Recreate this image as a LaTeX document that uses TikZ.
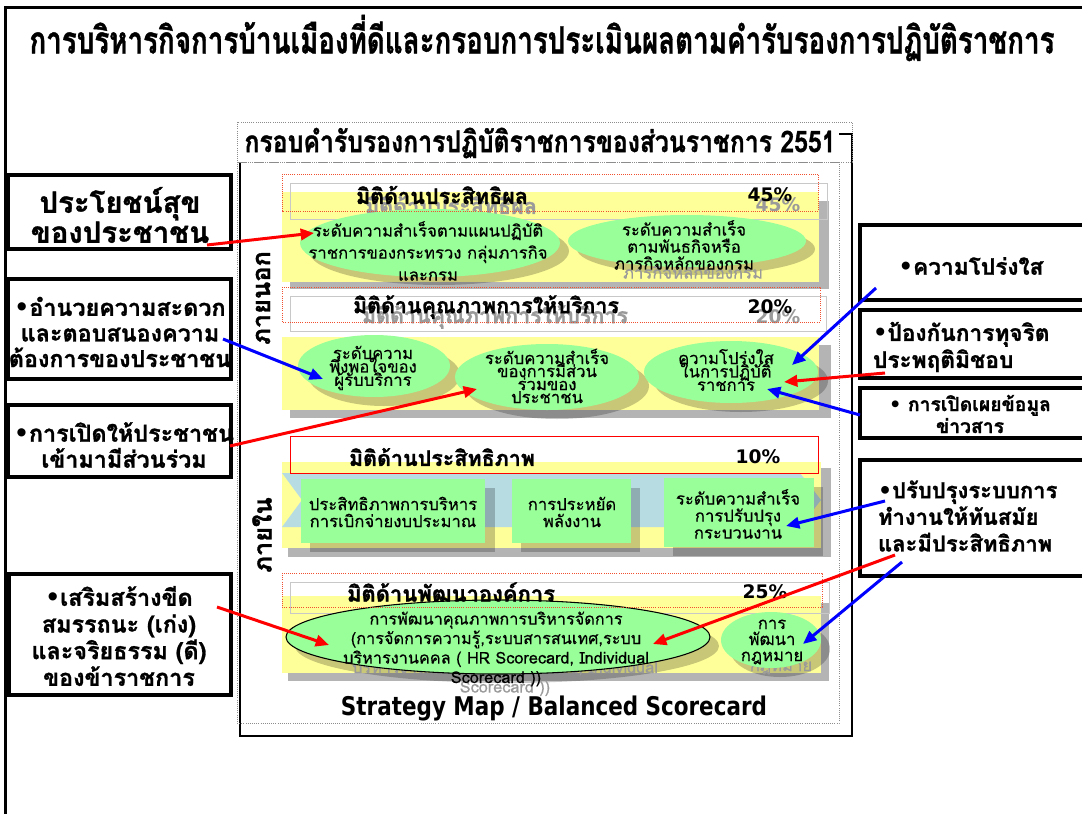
\documentclass[tikz,border=0pt]{standalone}
\usepackage{graphicx}
\usepackage{fontspec}
\newfontfamily\thai[Script=Thai,UprightFeatures={FakeBold=0.5},BoldFeatures={FakeBold=1.2}]{Loma}
\newfontfamily\dvs{DejaVu Sans}
\usetikzlibrary{arrows.meta,fit,shapes.geometric}
\lineskiplimit=-100pt
\newdimen\pu \pu=0.75pt
\newcommand\fitw[2]{\resizebox{#1\pu}{!}{#2}}
\newcommand\fitwy[3]{\scalebox{1}[#2]{\resizebox{#1\pu}{!}{#3}}}
\newcommand\bul{{\dvs\bfseries\char"2022}}
\definecolor{yel}{HTML}{FFFF99}
\definecolor{grn}{HTML}{99FF99}
\definecolor{shd}{HTML}{B4B4B4}
\definecolor{lblue}{HTML}{B7DDE3}
\definecolor{ghostc}{HTML}{9A9A9A}
\definecolor{stripc}{HTML}{C8C8C8}
\definecolor{redc}{HTML}{FF0000}
\definecolor{reddot}{HTML}{F05030}
\definecolor{bluec}{HTML}{0000FF}
\tikzset{
  every node/.style={inner sep=0pt,outer sep=0pt},
  tf/.style 2 args={font=\thai\fontsize{#1}{#2}\selectfont,align=center},
  tfb/.style 2 args={font=\thai\bfseries\fontsize{#1}{#2}\selectfont,align=center},
  ellsz/.style 2 args={minimum width=#1*1.5pt,minimum height=#2*1.5pt},
  greenell/.style={ellipse,fill=grn},
  shadowell/.style={ellipse,fill=black,fill opacity=0.22},
  greenbox/.style={fill=grn},
  shadowbox/.style={fill=black,fill opacity=0.22},
  sidebox/.style={draw=black,line width=3pt,fill=white},
  ghost/.style={text=ghostc},
  pct/.style={font=\dvs\bfseries\fontsize{14}{16}\selectfont},
  dotframe/.style={draw=reddot,densely dotted,line width=0.6pt},
  strip/.style={draw=stripc,line width=0.5pt},
  redarr/.style={draw=redc,line width=2.25pt,-{Triangle[length=10pt,width=8.5pt]}},
  bluearr/.style={draw=bluec,line width=2.25pt,-{Triangle[length=10pt,width=8.5pt]}},
}
\begin{document}
\begin{tikzpicture}[x=0.75pt,y=-0.75pt]
\useasboundingbox (0,0) rectangle (1082,814);
\clip (0,0) rectangle (1082,814);
\fill[white] (0,0) rectangle (1082,814);
\draw[line width=2.25pt] (5.5,830) -- (5.5,7.5) -- (1100,7.5);

\node[tfb={20}{24}] (title) at (542,38) {\fitwy{1025}{1.35}{การบริหารกิจการบ้านเมืองที่ดีและกรอบการประเมินผลตามคำรับรองการปฏิบัติราชการ}};

% ---- inner frame
\draw[black,line width=1pt,fill=white] (240,134) rectangle (852,736);
\draw[black!45,densely dotted,line width=0.6pt] (237,162) rectangle (839,723);
\fill[white] (237,122) rectangle (839,162);
\draw[black!45,densely dotted,line width=0.6pt] (237,122) rectangle (852,162);
\node[tfb={20}{24}] (boxtitle) at (540,143) {\fitwy{591}{1.2}{กรอบคำรับรองการปฏิบัติราชการของส่วนราชการ 2551}};

% ---- band backgrounds
\fill[shd] (290,201) rectangle (829,289);
\fill[yel] (282,192) rectangle (819,282);
\draw[strip] (290,183) rectangle (827,219);

\fill[shd] (290,345) rectangle (831,418);
\fill[yel] (282,337) rectangle (819,410);
\draw[strip] (290,296) rectangle (826,331);

\fill[shd] (288,468) rectangle (831,557);
\fill[yel] (282,462) rectangle (821,548);
\fill[lblue] (282,473) -- (800,473) -- (821,500) -- (800,527) -- (282,527) -- (302,500) -- cycle;

\fill[shd] (288,603) rectangle (829,681);
\fill[yel] (282,596) rectangle (821,673);
\draw[strip] (290,582) rectangle (829,613);

% ---- shadows of the shapes
\node[shadowell,ellsz={130}{34}] (e1s) at (439,251) {};
\node[shadowell,ellsz={119}{26}] (e2s) at (696,249) {};
\node[shadowell,ellsz={76}{31}] (e3s) at (384,375) {};
\node[shadowell,ellsz={92}{33}] (e4s) at (557,386) {};
\node[shadowell,ellsz={87}{31}] (e5s) at (741,381) {};
\node[shadowbox,fit={(310,488)(495,552)}] (b1s) {};
\node[shadowbox,fit={(521,488)(640,552)}] (b2s) {};
\node[shadowbox,fit={(673,487)(823,556)}] (b3s) {};
\node[shadowell,ellsz={212}{37}] (e6s) at (507,646) {};
\node[shadowell,ellsz={50}{28}] (e7s) at (780,649) {};

% ---- ghost texts (visible parts of the text shadows)
\node[tfb={16}{18},ghost] (h1g) at (451,205) {\fitw{172}{มิติด้านประสิทธิผล}};
\node[pct,ghost] (p1g) at (778,205) {45\%};
\node[tfb={16}{18},ghost] (h2g) at (495,317) {\fitw{266}{มิติด้านคุณภาพการให้บริการ}};
\node[pct,ghost] (p2g) at (778,317) {20\%};
\node[tf={12.5}{12.75},ghost] (e2g) at (693,272) {ภารกิจหลักของกรม};
\node[tf={12.2}{14.6},ghost] (e6g) at (505,678) {บริหารงานคคล ( HR Scorecard, Individual\\Scorecard ))};
\node[tf={12.5}{12},ghost] (e7g) at (781,668) {กฎหมาย};

% ---- front shapes
\node[greenell,ellsz={130}{34}] (e1) at (430,243) {};
\node[greenell,ellsz={119}{26}] (e2) at (687,241) {};
\node[greenell,ellsz={76}{31}] (e3) at (374,366) {};
\node[greenell,ellsz={92}{33}] (e4) at (547,377) {};
\node[greenell,ellsz={87}{31}] (e5) at (731,372) {};
\node[greenbox,fit={(301,479)(485,543)}] (b1) {};
\node[greenbox,fit={(512,479)(631,543)}] (b2) {};
\node[greenbox,fit={(664,478)(814,547)}] (b3) {};
\node[greenell,draw=black,line width=0.8pt,ellsz={212}{37}] (e6) at (498,637) {};
\node[greenell,ellsz={50}{28}] (e7) at (771,640) {};

% ---- front texts
\node[tf={12.5}{16.5}] (e1t) at (428,251) {ระดับความสำเร็จตามแผนปฏิบัติ\\ราชการของกระทรวง กลุ่มภารกิจ\\และกรม};
\node[tf={12.5}{12.75}] (e2t) at (684,245) {ระดับความสำเร็จ\\ตามพันธกิจหรือ\\ภารกิจหลักของกรม};
\node[tf={12.5}{10}] (e3t) at (373,368) {ระดับความ\\พึงพอใจของ\\ผู้รับบริการ};
\node[tf={12.5}{9.75}] (e4t) at (547,376) {ระดับความสำเร็จ\\ของการมีส่วน\\ร่วมของ\\ประชาชน};
\node[tf={12.5}{10}] (e5t) at (726,370) {ความโปร่งใส\\ในการปฏิบัติ\\ราชการ};
\node[tf={12.5}{12.75}] (b1t) at (393,512) {ประสิทธิภาพการบริหาร\\การเบิกจ่ายงบประมาณ};
\node[tf={12.5}{12.75}] (b2t) at (572,512) {การประหยัด\\พลังงาน};
\node[tf={12.5}{12.75}] (b3t) at (738,514) {ระดับความสำเร็จ\\การปรับปรุง\\กระบวนงาน};
\node[tf={12.2}{14.6}] (e6t) at (496,649) {การพัฒนาคุณภาพการบริหารจัดการ\\(การจัดการความรู้,ระบบสารสนเทศ,ระบบ\\บริหารงานคคล ( HR Scorecard, Individual\\Scorecard ))};
\node[tf={12.5}{12}] (e7t) at (772,642) {การ\\พัฒนา\\กฎหมาย};

% ---- headings
\draw[dotframe] (282,174) rectangle (818,211);
\node[tfb={16}{18}] (h1) at (442,195) {\fitw{172}{มิติด้านประสิทธิผล}};
\node[pct] (p1) at (770,195) {45\%};
\draw[dotframe] (282,287) rectangle (820,322);
\node[tfb={16}{18}] (h2) at (486,307) {\fitw{266}{มิติด้านคุณภาพการให้บริการ}};
\node[pct] (p2) at (770,307) {20\%};
\draw[draw=redc,line width=0.75pt] (290,436) rectangle (818,473);
\node[tfb={16}{18}] (h3) at (442,457) {\fitw{186}{มิติด้านประสิทธิภาพ}};
\node[pct] (p3) at (758,457) {10\%};
\draw[dotframe] (282,573) rectangle (822,607);
\node[tfb={16}{18}] (h4) at (451,592) {\fitw{208}{มิติด้านพัฒนาองค์การ}};
\node[pct] (p4) at (765,592) {25\%};

\node[tfb={19}{20},rotate=90] (outside) at (263,298) {ภายนอก};
\node[tfb={19}{20},rotate=90] (inside) at (262,535) {ภายใน};

\node[font=\dvs\bfseries] (smap) at (554,708) {\fitwy{426}{1.2}{Strategy Map / Balanced Scorecard}};

% ---- side boxes
\node[sidebox,fit={(8,175)(231,249)}] (lb1) {};
\node[tfb={22}{22.5}] (lb1t) at (120,215) {ประโยชน์สุข\\ของประชาชน};
\node[sidebox,fit={(8,279)(231,379)}] (lb2) {};
\node[tfb={17.5}{19.2}] (lb2t) at (120,332) {\bul อำนวยความสะดวก\\และตอบสนองความ\\ต้องการของประชาชน};
\node[sidebox,fit={(8,405)(231,477)}] (lb3) {};
\node[tfb={17.5}{19.5}] (lb3t) at (124,445) {\bul การเปิดให้ประชาชน\\เข้ามามีส่วนร่วม};
\node[sidebox,fit={(9,574)(231,695)}] (lb4) {};
\node[tfb={17.5}{20}] (lb4t) at (119,636) {\bul เสริมสร้างขีด\\สมรรถนะ (เก่ง)\\และจริยธรรม (ดี)\\ของข้าราชการ};

\node[sidebox,fit={(860,225)(1095,300)}] (rb1) {};
\node[tfb={17}{20}] (rb1t) at (971,266) {\bul ความโปร่งใส};
\node[sidebox,fit={(860,310)(1095,378)}] (rb2) {};
\node[tfb={17}{20.25},align=left,anchor=west] (rb2t) at (873,347) {\bul ป้องกันการทุจริต\\ประพฤติมิชอบ};
\node[sidebox,line width=2.5pt,fit={(860,388)(1095,438)}] (rb3) {};
\node[tfb={14.5}{16.5}] (rb3t) at (970,414) {\bul\ การเปิดเผยข้อมูล\\ข่าวสาร};
\node[sidebox,fit={(860,460)(1095,576)}] (rb4) {};
\node[tfb={16.5}{20},align=left,anchor=west] (rb4t) at (878,516) {\bul ปรับปรุงระบบการ\\ทำงานให้ทันสมัย\\และมีประสิทธิภาพ};

% ---- connectors
\coordinate (a1s) at (207,245); \coordinate (a1e) at (314,233);
\coordinate (a2s) at (223,339); \coordinate (a2e) at (323,379);
\coordinate (a3s) at (230,446); \coordinate (a3e) at (477,389);
\coordinate (a4s) at (876,288); \coordinate (a4e) at (792,365);
\coordinate (a5s) at (885,373); \coordinate (a5e) at (784,382);
\coordinate (a6s) at (860,415); \coordinate (a6e) at (767,389);
\coordinate (a7s) at (885,501); \coordinate (a7e) at (786,526);
\coordinate (a8s) at (895,555); \coordinate (a8e) at (653,644);
\coordinate (a9s) at (902,562); \coordinate (a9e) at (803,644);
\coordinate (a10s) at (217,607); \coordinate (a10e) at (329,645);
\draw[redarr] (a1s) -- (a1e);
\draw[bluearr] (a2s) -- (a2e);
\draw[redarr] (a3s) -- (a3e);
\draw[bluearr] (a4s) -- (a4e);
\draw[redarr] (a5s) -- (a5e);
\draw[bluearr] (a6s) -- (a6e);
\draw[bluearr] (a7s) -- (a7e);
\draw[redarr] (a8s) -- (a8e);
\draw[bluearr] (a9s) -- (a9e);
\draw[redarr] (a10s) -- (a10e);
\end{tikzpicture}
\end{document}
